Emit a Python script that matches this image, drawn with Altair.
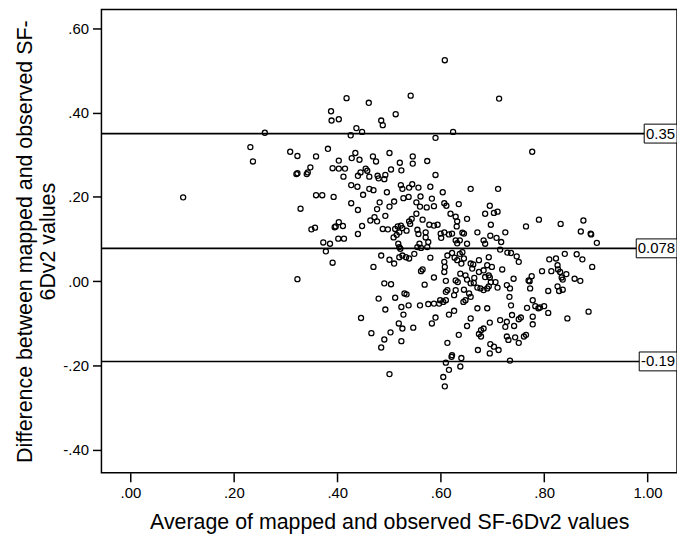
import altair as alt
import pandas as pd

# Average of mapped and observed SF-6Dv2 values (x) and their difference (y)
avg_values = [
    0.418, 0.388, 0.389, 0.403, 0.260, 0.232, 0.237, 0.309, 0.323, 0.359,
    0.382, 0.403, 0.348, 0.343, 0.341, 0.321, 0.323, 0.391, 0.403, 0.415,
    0.412, 0.102, 0.359, 0.371, 0.393, 0.329, 0.350, 0.357, 0.397, 0.403,
    0.411, 0.395, 0.402, 0.413, 0.373, 0.386, 0.378, 0.391, 0.323, 0.608,
    0.461, 0.542, 0.713, 0.513, 0.485, 0.488, 0.437, 0.448, 0.426, 0.590,
    0.624, 0.777, 0.435, 0.428, 0.443, 0.469, 0.475, 0.501, 0.521, 0.546,
    0.546, 0.574, 0.455, 0.458, 0.445, 0.440, 0.462, 0.478, 0.480, 0.491,
    0.493, 0.504, 0.524, 0.590, 0.427, 0.439, 0.450, 0.462, 0.470, 0.496,
    0.523, 0.526, 0.539, 0.545, 0.557, 0.580, 0.528, 0.538, 0.561, 0.583,
    0.604, 0.658, 0.711, 0.427, 0.482, 0.501, 0.510, 0.553, 0.560, 0.573,
    0.587, 0.607, 0.611, 0.635, 0.695, 0.440, 0.477, 0.448, 0.440, 0.464,
    0.472, 0.477, 0.493, 0.488, 0.498, 0.512, 0.517, 0.520, 0.515, 0.523,
    0.526, 0.509, 0.534, 0.539, 0.544, 0.541, 0.553, 0.565, 0.578, 0.587,
    0.594, 0.555, 0.557, 0.571, 0.571, 0.576, 0.600, 0.601, 0.607, 0.616,
    0.622, 0.619, 0.629, 0.632, 0.631, 0.651, 0.642, 0.645, 0.629, 0.632,
    0.637, 0.651, 0.671, 0.686, 0.703, 0.710, 0.697, 0.696, 0.708, 0.683,
    0.686, 0.717, 0.725, 0.715, 0.729, 0.736, 0.747, 0.751, 0.765, 0.518,
    0.520, 0.522, 0.559, 0.555, 0.526, 0.533, 0.539, 0.520, 0.485, 0.501,
    0.470, 0.510, 0.549, 0.562, 0.574, 0.580, 0.562, 0.565, 0.587, 0.569,
    0.607, 0.608, 0.607, 0.613, 0.622, 0.627, 0.632, 0.637, 0.642, 0.645,
    0.640, 0.658, 0.663, 0.661, 0.674, 0.693, 0.690, 0.699, 0.719, 0.610,
    0.629, 0.633, 0.638, 0.648, 0.651, 0.658, 0.665, 0.674, 0.683, 0.686,
    0.693, 0.695, 0.697, 0.706, 0.710, 0.664, 0.671, 0.677, 0.683, 0.690,
    0.693, 0.645, 0.655, 0.658, 0.648, 0.644, 0.629, 0.626, 0.613, 0.610,
    0.599, 0.605, 0.610, 0.597, 0.587, 0.576, 0.560, 0.491, 0.504, 0.530,
    0.534, 0.512, 0.480, 0.524, 0.538, 0.493, 0.528, 0.626, 0.616, 0.590,
    0.583, 0.547, 0.519, 0.526, 0.446, 0.466, 0.503, 0.491, 0.485, 0.524,
    0.658, 0.651, 0.671, 0.690, 0.695, 0.678, 0.683, 0.674, 0.678, 0.635,
    0.613, 0.672, 0.696, 0.703, 0.712, 0.695, 0.715, 0.728, 0.725, 0.738,
    0.742, 0.751, 0.755, 0.728, 0.731, 0.744, 0.751, 0.761, 0.765, 0.736,
    0.733, 0.728, 0.734, 0.741, 0.770, 0.773, 0.778, 0.783, 0.767, 0.621,
    0.622, 0.640, 0.610, 0.616, 0.638, 0.605, 0.501, 0.734, 0.608, 0.790,
    0.832, 0.876, 0.871, 0.890, 0.891, 0.902, 0.810, 0.823, 0.840, 0.863,
    0.874, 0.826, 0.827, 0.831, 0.834, 0.836, 0.843, 0.859, 0.870, 0.893,
    0.796, 0.814, 0.776, 0.772, 0.808, 0.826, 0.829, 0.836, 0.778, 0.778,
    0.789, 0.792, 0.800, 0.808, 0.845, 0.886,
]
diff_values = [
    0.434, 0.403, 0.381, 0.384, 0.352, 0.318, 0.284, 0.307, 0.297, 0.296,
    0.314, 0.286, 0.270, 0.258, 0.254, 0.254, 0.256, 0.268, 0.267, 0.267,
    0.248, 0.199, 0.204, 0.204, 0.200, 0.172, 0.123, 0.127, 0.130, 0.140,
    0.131, 0.128, 0.101, 0.101, 0.092, 0.089, 0.071, 0.044, 0.005, 0.524,
    0.423, 0.440, 0.433, 0.396, 0.381, 0.370, 0.363, 0.354, 0.346, 0.340,
    0.354, 0.307, 0.304, 0.292, 0.288, 0.296, 0.284, 0.304, 0.281, 0.296,
    0.279, 0.285, 0.267, 0.262, 0.258, 0.250, 0.248, 0.250, 0.244, 0.242,
    0.252, 0.265, 0.263, 0.252, 0.228, 0.224, 0.205, 0.219, 0.216, 0.211,
    0.228, 0.219, 0.222, 0.230, 0.222, 0.224, 0.197, 0.200, 0.201, 0.196,
    0.211, 0.219, 0.219, 0.185, 0.187, 0.177, 0.189, 0.187, 0.177, 0.175,
    0.178, 0.185, 0.179, 0.183, 0.179, 0.169, 0.171, 0.131, 0.112, 0.144,
    0.152, 0.142, 0.155, 0.124, 0.123, 0.124, 0.130, 0.116, 0.110, 0.132,
    0.126, 0.104, 0.120, 0.142, 0.148, 0.136, 0.160, 0.146, 0.134, 0.132,
    0.134, 0.122, 0.112, 0.116, 0.104, 0.093, 0.113, 0.103, 0.116, 0.111,
    0.113, 0.160, 0.153, 0.142, 0.130, 0.148, 0.115, 0.113, 0.097, 0.090,
    0.097, 0.089, 0.116, 0.160, 0.162, 0.165, 0.134, 0.108, 0.103, 0.097,
    0.089, 0.093, 0.116, 0.075, 0.068, 0.067, 0.059, 0.046, 0.130, 0.089,
    0.081, 0.077, 0.089, 0.081, 0.061, 0.057, 0.054, 0.057, 0.061, 0.051,
    0.034, 0.042, 0.065, 0.079, 0.081, 0.056, 0.024, 0.028, 0.009, -0.008,
    0.046, 0.034, 0.022, 0.061, 0.067, 0.056, 0.050, 0.065, 0.069, 0.054,
    0.042, 0.042, 0.040, 0.030, 0.050, 0.057, 0.038, 0.034, 0.028, 0.001,
    0.002, -0.002, 0.018, 0.014, 0.004, -0.005, 0.008, 0.022, 0.026, 0.010,
    0.014, 0.009, -0.002, -0.002, -0.015, -0.004, -0.015, -0.017, -0.021, -0.017,
    -0.012, -0.020, -0.029, -0.037, -0.045, -0.049, -0.021, -0.033, -0.021, -0.025,
    -0.045, -0.049, -0.045, -0.053, -0.053, -0.054, -0.057, -0.005, -0.007, -0.029,
    -0.031, -0.039, -0.041, -0.061, -0.057, -0.067, -0.079, -0.070, -0.079, -0.086,
    -0.100, -0.110, -0.100, -0.112, -0.087, -0.123, -0.121, -0.138, -0.157, -0.142,
    -0.088, -0.106, -0.064, -0.064, -0.098, -0.116, -0.112, -0.125, -0.131, -0.127,
    -0.146, -0.163, -0.149, -0.155, -0.163, -0.171, -0.092, -0.096, -0.108, -0.080,
    -0.106, -0.090, -0.086, -0.131, -0.139, -0.133, -0.146, -0.131, -0.127, -0.057,
    -0.037, -0.009, -0.017, 0.006, 0.002, -0.017, -0.045, -0.059, -0.063, -0.179,
    -0.175, -0.182, -0.193, -0.210, -0.202, -0.227, -0.220, -0.188, -0.249, 0.146,
    0.136, 0.144, 0.118, 0.113, 0.111, 0.091, 0.052, 0.054, 0.065, 0.064,
    0.052, 0.038, 0.028, 0.022, 0.009, 0.004, 0.017, 0.006, 0.001, 0.034,
    0.024, 0.024, 0.012, 0.000, -0.023, -0.012, -0.023, -0.020, -0.084, -0.102,
    -0.064, -0.062, -0.059, -0.075, -0.088, -0.072,
]

# Reference lines: upper limit, mean difference, lower limit
ref_values = [0.35, 0.078, -0.19]
ref_labels = ["0.35", "0.078", "-0.19"]

x_ticks = [0.0, 0.2, 0.4, 0.6, 0.8, 1.0]
y_ticks = [-0.4, -0.2, 0.0, 0.2, 0.4, 0.6]

W, H = 579, 466
FONT = "Liberation Sans"

pts = pd.DataFrame({"avg": avg_values, "diff": diff_values})
refs = pd.DataFrame({"v": ref_values, "label": ref_labels})

lab_expr = ("(datum.value < -0.0001 ? '-' : '') + "
            "replace(format(abs(datum.value), '.2f'), '0.', '.')")

xscale = alt.Scale(domain=[-0.056, 1.057], nice=False, zero=False)
yscale = alt.Scale(domain=[-0.454, 0.644], nice=False, zero=False)

points = alt.Chart(pts).mark_point(
    shape="circle", filled=False, color="black", size=26, strokeWidth=1.3, opacity=1
).encode(
    x=alt.X("avg:Q", scale=xscale,
            axis=alt.Axis(values=x_ticks, labelExpr=lab_expr,
                          title="Average of mapped and observed SF-6Dv2 values")),
    y=alt.Y("diff:Q", scale=yscale,
            axis=alt.Axis(values=y_ticks, labelExpr=lab_expr,
                          title=["Difference between mapped and observed SF-",
                                 "6Dv2 values"])),
)

rules = alt.Chart(refs).mark_rule(color="black", strokeWidth=1.6).encode(
    y=alt.Y("v:Q", scale=yscale)
)

layers = [points, rules]
box_w = {"0.35": 33, "0.078": 41, "-0.19": 38}
box_h = 19
for v, lab in zip(ref_values, ref_labels):
    w = box_w[lab]
    r = box_h / w
    path = f"M-1,-{r:.3f}L1,-{r:.3f}L1,{r:.3f}L-1,{r:.3f}Z"
    d = pd.DataFrame({"v": [v], "label": [lab]})
    box = alt.Chart(d).mark_point(
        shape=path, size=w * w, filled=True, fill="white", stroke="black",
        strokeWidth=1, opacity=1, fillOpacity=1
    ).encode(x=alt.value(W - w / 2), y=alt.Y("v:Q", scale=yscale))
    txt = alt.Chart(d).mark_text(
        align="right", baseline="middle", fontSize=15, font=FONT, color="black", dx=0
    ).encode(x=alt.value(W - 2), y=alt.Y("v:Q", scale=yscale), text="label:N")
    layers += [box, txt]

chart = alt.layer(*layers).properties(
    width=W, height=H,
    autosize=alt.AutoSizeParams(type="none"),
    padding={"left": 94, "top": 0, "right": 0, "bottom": 62},
).configure_view(
    stroke="black", strokeWidth=1.5
).configure_axis(
    grid=False, domain=False, ticks=True, tickColor="black", tickWidth=1.5,
    tickSize=9, labelFont=FONT, labelFontSize=15, labelColor="black",
    titleFont=FONT, titleFontSize=21.5, titleFontWeight="normal", titleColor="black",
    labelPadding=4,
).configure_axisX(
    titlePadding=11,
).configure_axisY(
    titlePadding=3, titleLineHeight=24,
)

chart.save("out.html", embed_options={"renderer": "svg", "actions": False})
